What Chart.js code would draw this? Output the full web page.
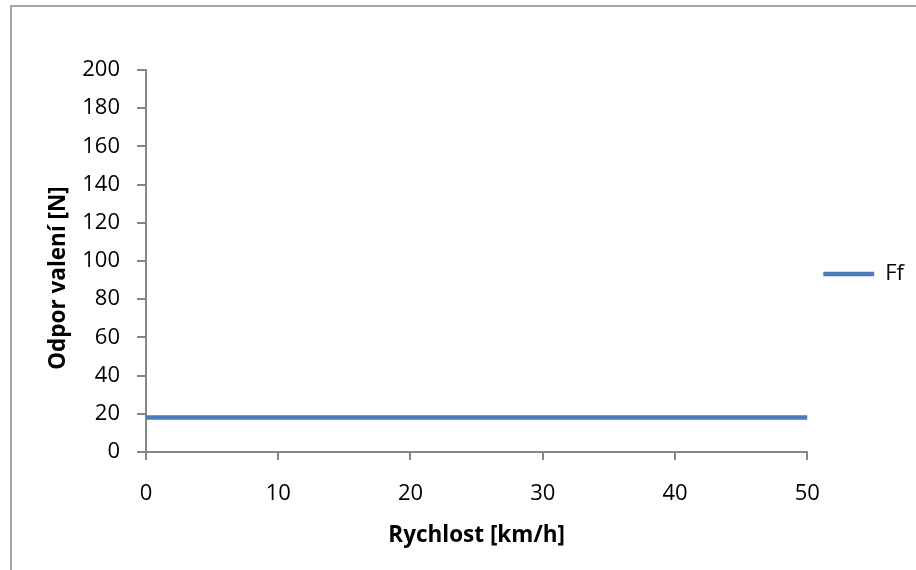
<!DOCTYPE html>
<html>
<head>
<meta charset="utf-8">
<script src="https://cdn.jsdelivr.net/npm/chart.js@4"></script>
<style>
  html, body { margin: 0; padding: 0; background: #ffffff; }
  #wrap { position: relative; width: 916px; height: 570px; }
  #frame { position: absolute; left: 10px; top: 5px; right: -2px; bottom: -2px; border-top: 2px solid #a6a6a6; border-left: 2px solid #a6a6a6; }
  canvas { position: absolute; left: 0; top: 0; }
</style>
</head>
<body>
<div id="wrap">
  <div id="frame"></div>
  <canvas id="c" width="916" height="570"></canvas>
</div>
<script>
// Rolling resistance vs. speed
const speeds = [0, 10, 20, 30, 40, 50];
const rollingResistance = [18, 18, 18, 18, 18, 18];
const seriesName = 'Ff';
const xTitle = 'Rychlost [km/h]';
const yTitle = 'Odpor valení [N]';

const FONT = '"Open Sans", Lato, sans-serif';
const axisGray = '#868686';
const lineBlue = '#4a7ebb';
const titleFont = { family: FONT, size: 22.5, weight: 'bold' };

// nudge the right-hand legend a bit below the plot's vertical centre
const legendOffset = {
  id: 'legendOffset',
  afterLayout(chart) {
    const lg = chart.legend;
    if (lg) { lg.top += 13; lg.bottom += 13; }
  }
};

// vertical axis title, set left of the tick labels and slightly below centre
const yAxisTitle = {
  id: 'yAxisTitle',
  afterDraw(chart) {
    const s = chart.scales.y;
    const ctx = chart.ctx;
    ctx.save();
    ctx.translate(65, (s.top + s.bottom) / 2 + 17);
    ctx.rotate(-Math.PI / 2);
    ctx.font = 'bold ' + titleFont.size + 'px ' + FONT;
    ctx.fillStyle = '#000000';
    ctx.textAlign = 'center';
    ctx.textBaseline = 'alphabetic';
    ctx.fillText(yTitle, 0, 0);
    ctx.restore();
  }
};

new Chart(document.getElementById('c'), {
  type: 'line',
  data: {
    datasets: [{
      label: seriesName,
      data: speeds.map((s, i) => ({ x: s, y: rollingResistance[i] })),
      borderColor: lineBlue,
      backgroundColor: lineBlue,
      borderWidth: 4.5,
      borderCapStyle: 'round',
      pointRadius: 0,
      tension: 0
    }]
  },
  options: {
    responsive: false,
    animation: false,
    devicePixelRatio: 1,
    layout: { padding: { left: 0, top: 70, right: 2, bottom: 0 } },
    plugins: {
      tooltip: { enabled: false },
      legend: {
        position: 'right',
        fullSize: false,
        labels: {
          usePointStyle: true,
          pointStyle: 'line',
          pointStyleWidth: 51,
          padding: 16,
          color: '#000000',
          font: { family: FONT, size: 22 }
        }
      }
    },
    scales: {
      x: {
        type: 'linear',
        min: 0,
        max: 50,
        afterFit(scale) { scale.height = 118; },
        ticks: { stepSize: 10, color: '#000000', padding: 21, font: { family: FONT, size: 22 } },
        grid: { drawOnChartArea: false, drawTicks: true, tickLength: 8, color: axisGray, lineWidth: 2 },
        border: { display: true, color: axisGray, width: 2 },
        title: { display: true, text: xTitle, color: '#000000', padding: { top: 0, bottom: 21 }, font: titleFont }
      },
      y: {
        min: 0,
        max: 200,
        afterFit(scale) { scale.width = 146; },
        ticks: { stepSize: 20, color: '#000000', padding: 17, font: { family: FONT, size: 22 } },
        grid: { drawOnChartArea: false, drawTicks: true, tickLength: 9, color: axisGray, lineWidth: 2 },
        border: { display: true, color: axisGray, width: 2 },
        title: { display: false }
      }
    }
  },
  plugins: [legendOffset, yAxisTitle]
});
</script>
</body>
</html>
